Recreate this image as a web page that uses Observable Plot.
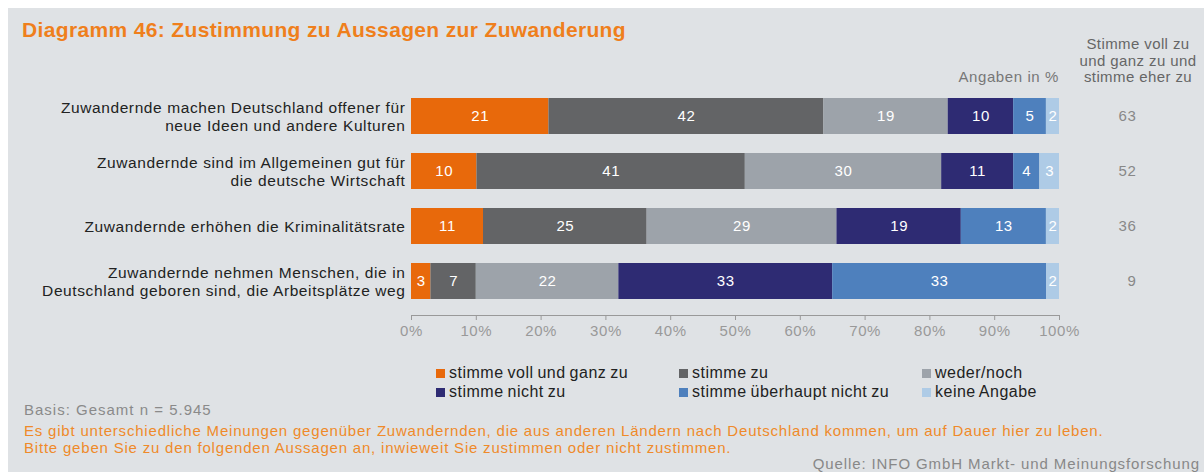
<!DOCTYPE html>
<html><head><meta charset="utf-8">
<script src="https://cdn.jsdelivr.net/npm/d3@7"></script>
<script src="https://cdn.jsdelivr.net/npm/@observablehq/plot@0.6"></script>
<style>
body{margin:0;background:#fff;font-family:"Liberation Sans",Arial,sans-serif;}
#page{position:relative;width:1204px;height:472px;overflow:hidden;}
#panel{position:absolute;left:8px;top:8px;right:0;bottom:0;background:#dfe2e5;}
.abs{position:absolute;white-space:nowrap;}
#title{left:22px;top:18px;font-size:21px;font-weight:bold;color:#ef7f1c;letter-spacing:0.35px;}
#hdr{left:1078px;top:36px;width:120px;text-align:center;font-size:15px;line-height:16.5px;color:#666;letter-spacing:0.4px;}
#unit{right:145px;top:68px;font-size:15px;color:#777;letter-spacing:0.6px;}
.leg{font-size:16px;color:#222;letter-spacing:0.5px;word-spacing:-1px;}
.sw{display:inline-block;width:9px;height:9px;margin-right:4px;vertical-align:0px;}
#basis{left:24px;top:401px;font-size:15px;color:#8a8a8a;letter-spacing:1px;}
#q{left:24px;top:423px;font-size:15px;line-height:16.5px;color:#ef8a2a;letter-spacing:0.8px;}
#src{right:4px;top:455px;font-size:15px;color:#888;letter-spacing:0.9px;}
#chart{left:0;top:0;}
</style></head><body>
<div id="page">
<div id="panel"></div>
<div class="abs" id="title">Diagramm 46: Zustimmung zu Aussagen zur Zuwanderung</div>
<div class="abs" id="hdr">Stimme voll zu<br>und ganz zu und<br>stimme eher zu</div>
<div class="abs" id="unit">Angaben in %</div>
<div id="chart" class="abs"></div>
<div id="legend"></div>
<div class="abs" id="basis">Basis: Gesamt n = 5.945</div>
<div class="abs" id="q">Es gibt unterschiedliche Meinungen gegenüber Zuwandernden, die aus anderen Ländern nach Deutschland kommen, um auf Dauer hier zu leben.<br>Bitte geben Sie zu den folgenden Aussagen an, inwieweit Sie zustimmen oder nicht zustimmen.</div>
<div class="abs" id="src">Quelle: INFO GmbH Markt- und Meinungsforschung</div>
</div>
<script>
const statements = [
  "Zuwandernde machen Deutschland offener für\nneue Ideen und andere Kulturen",
  "Zuwandernde sind im Allgemeinen gut für\ndie deutsche Wirtschaft",
  "Zuwandernde erhöhen die Kriminalitätsrate",
  "Zuwandernde nehmen Menschen, die in\nDeutschland geboren sind, die Arbeitsplätze weg"
];
const categories = ["stimme voll und ganz zu", "stimme zu", "weder/noch", "stimme nicht zu", "stimme überhaupt nicht zu", "keine Angabe"];
const colors = ["#e8690b", "#636466", "#9da3aa", "#2e2b73", "#4e80bd", "#aecbe6"];
const vollUndGanz = [21, 10, 11, 3];
const stimmeZu = [42, 41, 25, 7];
const wederNoch = [19, 30, 29, 22];
const nichtZu = [10, 11, 19, 33];
const ueberhauptNicht = [5, 4, 13, 33];
const keineAngabe = [2, 3, 2, 2];
const zustimmungGesamt = [63, 52, 36, 9];
const xTicks = [0, 10, 20, 30, 40, 50, 60, 70, 80, 90, 100];

const series = [vollUndGanz, stimmeZu, wederNoch, nichtZu, ueberhauptNicht, keineAngabe];
const data = [];
statements.forEach((s, i) => categories.forEach((c, j) => data.push({statement: s, category: c, value: series[j][i]})));
const totals = statements.map((s, i) => ({statement: s, total: zustimmungGesamt[i]}));

const stackOpts = {x: "value", y: "statement", z: "category", order: categories, offset: "normalize"};

const plot = Plot.plot({
  width: 1204,
  height: 350,
  marginLeft: 411,
  marginRight: 145,
  marginTop: 90,
  marginBottom: 35,
  style: {background: "transparent", fontFamily: "'Liberation Sans', Arial, sans-serif", letterSpacing: "0.6px"},
  x: {domain: [0, 100], percent: true, ticks: xTicks, tickFormat: d => d + "%"},
  y: {domain: statements, range: [92, 304], paddingInner: 0.35, paddingOuter: 0.1},
  color: {domain: categories, range: colors},
  marks: [
    Plot.barX(data, Plot.stackX({...stackOpts, fill: "category"})),
    Plot.text(data, Plot.stackX({...stackOpts, text: "value", fill: "white", fontSize: 15})),
    Plot.text(totals, {y: "statement", text: "total", frameAnchor: "right", dx: 77, fill: "#888", fontSize: 15}),
    Plot.axisY({tickSize: 0, tickPadding: 6, fontSize: 15.5, color: "#222", lineHeight: 1.16, label: null}),
    Plot.axisX({ticks: xTicks, tickFormat: d => d + "%", tickSize: 5, tickPadding: 5, fontSize: 15, color: "#999", label: null}),
    Plot.frame({anchor: "bottom", stroke: "#999"})
  ]
});
document.getElementById("chart").appendChild(plot);

const legend = document.getElementById("legend");
const legX = [436, 679, 922];
const legY = [364, 383];
categories.forEach((c, i) => {
  const d = document.createElement("div");
  d.className = "abs leg";
  d.style.left = legX[i % 3] + "px";
  d.style.top = legY[Math.floor(i / 3)] + "px";
  d.innerHTML = `<span class="sw" style="background:${colors[i]}"></span>${c}`;
  legend.appendChild(d);
});
</script>
</body></html>
